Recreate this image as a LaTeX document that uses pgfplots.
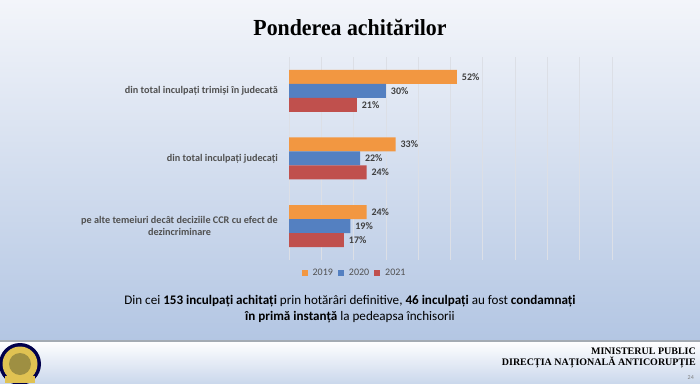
\documentclass[border=0pt]{standalone}
\usepackage{fontspec}
\setmainfont{Carlito}
\newfontfamily\timesf{Liberation Serif}
\usepackage{pgfplots}
\pgfplotsset{compat=1.18}
\definecolor{cOr}{HTML}{F29741}
\definecolor{cBl}{HTML}{5480C1}
\definecolor{cRd}{HTML}{C0504D}
\definecolor{bgTop}{HTML}{F3F5FA}
\definecolor{bgBot}{HTML}{B3C6E3}
\definecolor{footBot}{HTML}{CBD8EC}
\definecolor{sepC}{HTML}{A4ABB3}
\definecolor{txt}{HTML}{404040}
\definecolor{lab}{HTML}{505050}
\definecolor{gridC}{HTML}{DCDFE6}
\begin{document}
\begin{tikzpicture}[x=1pt,y=1pt]
\useasboundingbox (0,0) rectangle (700,383);
\shade[top color=bgTop, bottom color=bgBot] (0,42) rectangle (700,383);
\shade[top color=white, bottom color=footBot] (0,0) rectangle (700,42);
\draw[line width=1.5pt, color=sepC] (0,42) -- (700,42);
% logo
\fill[color=black!70!blue] (20,19) circle (21);
\fill[color=brown!60!yellow!80!white] (20,19) circle (17.5);
\fill[color=brown!50!yellow!60!black!80] (20,19) circle (11);
\fill[color=brown!60!yellow!80!white] (5,0) rectangle (35,7);
% title
\node[font=\timesf\bfseries\fontsize{23}{26}\selectfont, text=black, xscale=0.95] at (350,355) {Ponderea achitărilor};
\begin{axis}[
  at={(289pt,123pt)}, anchor=south west,
  scale only axis, width=323pt, height=203pt,
  xbar, bar width=14pt,
  xmin=0, xmax=100, ymin=-0.5, ymax=2.5,
  xtick={0,10,...,100}, xticklabels={},
  ytick={0,1,2},
  yticklabels={{pe alte temeiuri decât deciziile CCR cu efect de\\dezincriminare},{din total inculpați judecați},{din total inculpați trimiși în judecată}},
  yticklabel style={align=center, font=\bfseries\fontsize{10.2}{12.5}\selectfont, text=lab, inner xsep=0pt, xshift=-11pt},
  major tick length=0pt,
  axis line style={draw=none},
  xmajorgrids, major grid style={color=gridC, line width=0.7pt},
  point meta=x,
  /pgf/number format/assume math mode=true,
  nodes near coords={\pgfmathprintnumber{\pgfplotspointmeta}\%},
  nodes near coords style={font=\bfseries\fontsize{10}{11}\selectfont, text=txt, anchor=west, xshift=1.5pt},
  legend columns=3,
  legend style={at={(0.203,-0.064)}, anchor=center, draw=none, fill=none, font=\fontsize{10}{11}\selectfont, text=lab, column sep=3pt},
  legend image code/.code={\fill[#1] (0pt,-3pt) rectangle (6pt,3pt);},
]
\addplot[fill=cOr, draw=none, bar shift=14pt] coordinates {(24,0) (33,1) (52,2)};
\addplot[fill=cBl, draw=none, bar shift=0pt] coordinates {(19,0) (22,1) (30,2)};
\addplot[fill=cRd, draw=none, bar shift=-14pt] coordinates {(17,0) (24,1) (21,2)};
\legend{2019,2020,2021}
\end{axis}
\node[font=\fontsize{13.1}{16}\selectfont, text=black, align=center] at (350,74) {Din cei \textbf{153 inculpați achitați} prin hotărâri definitive, \textbf{46 inculpați} au fost \textbf{condamnați}\\\textbf{în primă instanță} la pedeapsa închisorii};
\node[font=\timesf\bfseries\fontsize{10}{11.5}\selectfont, anchor=east, align=right, inner sep=0pt] at (696,25) {MINISTERUL PUBLIC\\DIRECȚIA NAȚIONALĂ ANTICORUPȚIE};
\node[font=\fontsize{6}{7}\selectfont, text=gray, anchor=east, inner sep=0pt] at (694,5) {24};
\end{tikzpicture}
\end{document}
